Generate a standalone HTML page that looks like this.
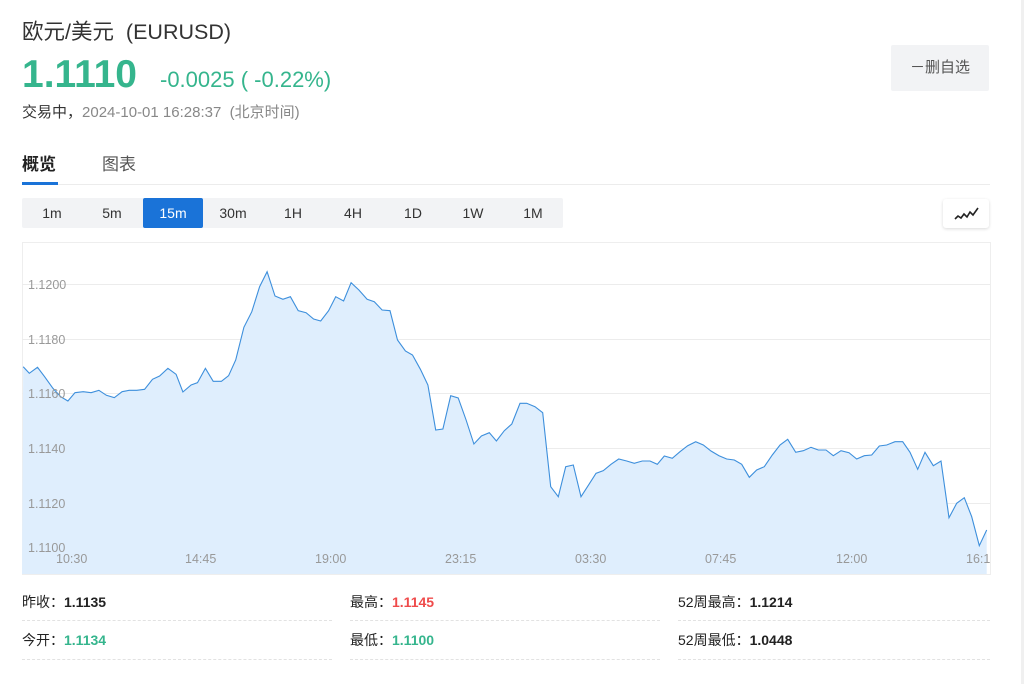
<!DOCTYPE html>
<html><head><meta charset="utf-8"><style>
*{margin:0;padding:0;box-sizing:border-box}
body{width:1024px;height:684px;background:#fff;font-family:"Liberation Sans","Noto Sans CJK SC",sans-serif;position:relative;overflow:hidden;color:#222}
.a{position:absolute;white-space:nowrap}
.btns{position:absolute;left:22px;top:198px;width:541px;height:30px;background:#f2f3f5;border-radius:2px}
.btns span{position:absolute;top:0;width:60px;height:30px;line-height:30px;text-align:center;font-size:14px;color:#333}
.btns span.on{background:#1a73d8;color:#fff;border-radius:2px}
.st{position:absolute;font-size:14px;color:#222}
.st b{font-weight:bold}
.dl{position:absolute;height:0;border-top:1px dashed #e2e2e2}
</style></head><body>
<div class="a" style="left:22px;top:15px;font-size:21.5px;color:#333">欧元/美元&nbsp;&nbsp;(EURUSD)</div>
<div class="a" style="left:22px;top:53px;font-size:39px;font-weight:bold;color:#35b58d">1.1110</div>
<div class="a" style="left:160px;top:67px;font-size:22px;color:#35b58d">-0.0025 ( -0.22%)</div>
<div class="a" style="left:22px;top:101px;font-size:15px;color:#333">交易中，<span style="color:#888">2024-10-01 16:28:37&nbsp; (北京时间)</span></div>
<div class="a" style="left:891px;top:45px;width:98px;height:46px;background:#f2f3f5;border-radius:2px;font-size:15px;color:#555;line-height:46px;text-align:center">－删自选</div>
<div class="a" style="left:22px;top:150px;font-size:17px;font-weight:bold;color:#222">概览</div>
<div class="a" style="left:102px;top:150px;font-size:17px;color:#555">图表</div>
<div class="a" style="left:22px;top:184px;width:968px;height:1px;background:#ececec"></div>
<div class="a" style="left:22px;top:182px;width:36px;height:3px;background:#1a73d8"></div>
<div class="btns"><span style="left:0">1m</span><span style="left:60px">5m</span><span class="on" style="left:121px">15m</span><span style="left:181px">30m</span><span style="left:241px">1H</span><span style="left:301px">4H</span><span style="left:361px">1D</span><span style="left:421px">1W</span><span style="left:481px">1M</span></div>
<div class="a" style="left:943px;top:199px;width:46px;height:29px;background:#fff;border-radius:3px;box-shadow:0 1px 3px rgba(0,0,0,.15)">
<svg width="46" height="29"><polyline points="12,20 15,17 18,19 21,15 24,18 27,13 30,16 35,9" fill="none" stroke="#222" stroke-width="1.6"/></svg></div>
<div class="a" style="left:1021px;top:0;width:3px;height:684px;background:#f0f0f0"></div>
<svg class="a" style="left:0;top:0" width="1024" height="684" id="ch">
<rect x="22.5" y="242.5" width="968" height="332" fill="none" stroke="#eeeeee"/>
<g stroke="#ececec" stroke-width="1">
<line x1="22" x2="990" y1="284.5" y2="284.5"/><line x1="22" x2="990" y1="339.5" y2="339.5"/><line x1="22" x2="990" y1="393.5" y2="393.5"/><line x1="22" x2="990" y1="448.5" y2="448.5"/><line x1="22" x2="990" y1="503.5" y2="503.5"/>
</g>
<path id="fill" fill="#dfeefd"/>
<path id="ln" fill="none" stroke="#3d8fdc" stroke-width="1.1"/>
<g font-size="12.5" fill="#999" font-family="Liberation Sans,sans-serif">
<text x="28" y="289">1.1200</text><text x="28" y="344">1.1180</text><text x="28" y="398">1.1160</text><text x="28" y="453">1.1140</text><text x="28" y="508">1.1120</text><text x="28" y="552">1.1100</text>
<text x="56" y="563">10:30</text><text x="185" y="563">14:45</text><text x="315" y="563">19:00</text><text x="445" y="563">23:15</text><text x="575" y="563">03:30</text><text x="705" y="563">07:45</text><text x="836" y="563">12:00</text><text x="966" y="563">16:1</text>
</g>
</svg>
<div class="st" style="left:22px;top:592px">昨收：<b>1.1135</b></div>
<div class="st" style="left:350px;top:592px">最高：<b style="color:#ef4b4b">1.1145</b></div>
<div class="st" style="left:678px;top:592px">52周最高：<b>1.1214</b></div>
<div class="st" style="left:22px;top:630px">今开：<b style="color:#35b58d">1.1134</b></div>
<div class="st" style="left:350px;top:630px">最低：<b style="color:#35b58d">1.1100</b></div>
<div class="st" style="left:678px;top:630px">52周最低：<b>1.0448</b></div>
<div class="dl" style="left:22px;top:620px;width:310px"></div><div class="dl" style="left:350px;top:620px;width:310px"></div><div class="dl" style="left:678px;top:620px;width:312px"></div>
<div class="dl" style="left:22px;top:659px;width:310px"></div><div class="dl" style="left:350px;top:659px;width:310px"></div><div class="dl" style="left:678px;top:659px;width:312px"></div>
<script>
var a=[65,380,82,400,105,382,125,410,148,445,170,470,190,483,210,458,233,455,255,458,277,451,298,466,320,473,342,455,362,451,383,451,405,448,427,418,447,408,470,385,493,403,512,456,535,435,553,428,575,385,597,424,620,424,640,407,660,360,683,262,705,215,727,140,748,95,770,168,792,178,813,170,835,212,857,218,878,237,898,243,920,212,940,170,962,183,983,128,1005,150,1028,178,1048,185,1070,210,1092,212,1113,300,1135,333,1155,345,1177,388,1198,435,1220,570,1240,567,1262,467,1283,474,1305,540,1327,612,1348,588,1370,578,1390,603,1412,572,1433,552];
var b=[0,490,20,490,45,500,68,518,92,740,115,770,137,680,160,675,183,770,207,733,228,700,250,692,273,673,296,657,320,663,343,670,367,663,390,663,412,673,433,648,457,655,480,635,503,617,527,605,550,615,573,633,597,647,620,657,643,660,665,673,688,712,710,690,733,680,757,645,780,615,803,598,827,637,850,632,873,622,895,630,918,630,940,647,963,632,987,638,1010,657,1033,647,1055,645,1078,618,1100,615,1125,605,1148,605,1170,637,1193,688,1215,637,1240,677,1263,663,1287,833,1310,790,1333,773,1355,830,1378,917,1400,870];
var p=[];
for(var i=0;i<a.length;i+=2)p.push([Math.max(22,a[i]/2.8),240+a[i+1]/3]);
for(i=0;i<b.length;i+=2)p.push([520+b[i]/3,240+b[i+1]/3]);
var d=p.map(function(q,k){return (k?'L':'M')+q[0].toFixed(1)+' '+q[1].toFixed(1)}).join('');
document.getElementById('ln').setAttribute('d',d);
document.getElementById('fill').setAttribute('d',d+'L'+p[p.length-1][0].toFixed(1)+' 574L22 574Z');
</script>
</body></html>
